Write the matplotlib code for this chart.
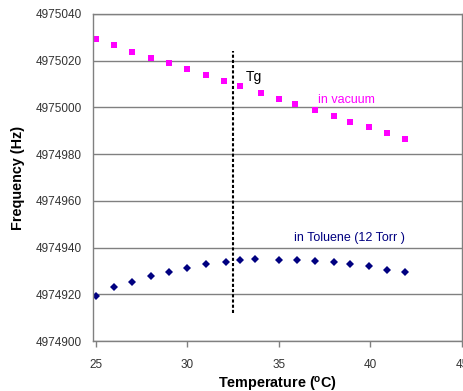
import matplotlib
matplotlib.use("Agg")
from matplotlib import pyplot as plt

# vacuum run (pink squares)
temp_vac = [25, 26, 27, 28, 29, 30, 31, 32, 32.9, 34, 35, 35.9, 37, 38, 38.9, 39.9, 40.9, 41.9]
freq_vac = [4975029.2, 4975026.6, 4975023.9, 4975021.3, 4975019.1, 4975016.6, 4975013.9,
            4975011.3, 4975009.2, 4975006.0, 4975003.7, 4975001.6, 4974998.8, 4974996.4,
            4974993.9, 4974991.7, 4974989.2, 4974986.5]

# toluene run (navy diamonds)
temp_tol = [25, 26, 27, 28, 29, 30, 31, 32.1, 32.9, 33.7, 35, 36, 37, 38, 38.9, 39.9, 40.9, 41.9]
freq_tol = [4974919.1, 4974923.1, 4974925.4, 4974928.0, 4974929.7, 4974931.4, 4974932.9,
            4974933.7, 4974934.6, 4974935.1, 4974934.6, 4974934.6, 4974934.1, 4974933.7,
            4974933.0, 4974932.0, 4974930.2, 4974929.4]

tg = 32.5
tg_span = [4974912, 4975024]

xticks = [25, 30, 35, 40, 45]
yticks = [4974900, 4974920, 4974940, 4974960, 4974980, 4975000, 4975020, 4975040]

plt.rcParams['font.family'] = ['Liberation Sans', 'DejaVu Sans']

fig = plt.figure(figsize=(4.64, 3.91), dpi=100)
ax = fig.add_axes([93 / 464, 1 - 341 / 391, (462 - 93) / 464, (341 - 14) / 391])

ax.plot(temp_vac, freq_vac, 's', color='#FF00FF', markersize=4.5, markeredgewidth=0)
ax.plot(temp_tol, freq_tol, 'D', color='#000080', markersize=3.6, markeredgewidth=0)
ax.plot([tg, tg], tg_span, color='black', linestyle=(0, (1.5, 1)), linewidth=1.5)

ax.text(33.2, 4975013, 'Tg', fontsize=10, color='black', va='center')
ax.text(37.15, 4975003, 'in vacuum', fontsize=9, color='#FF00FF', va='center')
ax.text(35.8, 4974944, 'in Toluene (12 Torr )', fontsize=9, color='#000080', va='center')

ax.set_xlim(24.85, 45)
ax.set_ylim(4974900, 4975040)
ax.set_xticks(xticks)
ax.set_yticks(yticks)
ax.set_xticklabels([str(t) for t in xticks])
ax.set_yticklabels([str(t) for t in yticks])
ax.grid(axis='y', color='#808080', linewidth=1)
ax.set_axisbelow(True)
for s in ax.spines.values():
    s.set_color('#808080')
    s.set_linewidth(1)
ax.tick_params(axis='both', colors='#808080', labelcolor='#333333', labelsize=8.5, length=4, width=1)
ax.tick_params(axis='y', length=0, pad=8)
ax.tick_params(axis='x', pad=9)

ax.set_ylabel('Frequency (Hz)', fontsize=10.4, fontweight='bold', labelpad=8)
ax.set_xlabel('Temperature ($^{\\mathregular{o}}$C)', fontsize=10.4, fontweight='bold', labelpad=3)

fig.savefig('out.png', dpi=100)
